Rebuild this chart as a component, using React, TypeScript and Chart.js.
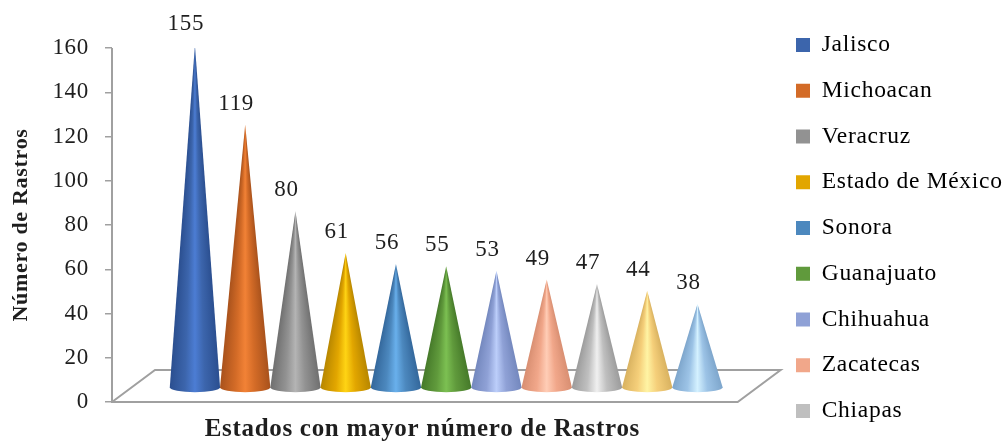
import React, { useEffect, useRef } from "react";
import { Chart, BarController, BarElement, registerables } from "chart.js";

// Slaughterhouse counts per state, highest first.
const rastros = [155, 119, 80, 61, 56, 55, 53, 49, 47, 44, 38];
const legendStates = [
  "Jalisco", "Michoacan", "Veracruz", "Estado de México", "Sonora",
  "Guanajuato", "Chihuahua", "Zacatecas", "Chiapas",
];
const yTitle = "Número de Rastros";
const xTitle = "Estados con mayor número de Rastros";

const baseColors = ["#3C65AC", "#D36B27", "#929292", "#E2A600", "#4C88BE", "#609A3C", "#8FA1D6", "#F1A78A", "#BFBFBF", "#F5CF7A", "#9CC3E6"];
const edgeColors = ["#2B4F90", "#A9521C", "#707070", "#B88700", "#34689C", "#467A2A", "#7488BE", "#D98F72", "#9C9C9C", "#D9B260", "#7EA6CC"];
const glowColors = ["#4C7DD4", "#F28236", "#B4B4B4", "#FFD414", "#69B0EC", "#7CC052", "#BCCEFA", "#FFCDB6", "#F0F0F0", "#FFF4A4", "#D4F1FF"];

const FONT = "'Liberation Serif', serif";
const AXIS_GREY = "#A0A0A0";
const INK = "#1E1E1E";

// Floor and projection offsets of the pseudo-3D plot, in pixels.
const DEPTH_Y = 32;
const DEPTH_X = 43;
const FRONT_OVERHANG = 5;
const CONE_LIFT = 14;

class ConeElement extends BarElement {
  static id = "cone";

  draw(ctx: CanvasRenderingContext2D) {
    const { x, y, base, width } = (this as any).getProps(["x", "y", "base", "width"]);
    const i = baseColors.indexOf((this as any).options.backgroundColor);
    const rx = width / 2;
    const ry = 5;
    const tip = y - CONE_LIFT;
    const floor = base - CONE_LIFT;

    ctx.save();
    ctx.beginPath();
    ctx.moveTo(x, tip);
    ctx.lineTo(x + rx, floor);
    ctx.ellipse(x, floor, rx, ry, 0, 0, Math.PI);
    ctx.closePath();
    ctx.clip();

    // Each row gets its own gradient so the shading narrows towards the apex.
    for (let row = Math.floor(tip); row < floor + ry + 1; row++) {
      const half = Math.max(1, row < floor ? (rx * (row - tip)) / (floor - tip) : rx);
      const g = ctx.createLinearGradient(x - half, 0, x + half, 0);
      g.addColorStop(0, edgeColors[i]);
      g.addColorStop(0.3, baseColors[i]);
      g.addColorStop(0.5, glowColors[i]);
      g.addColorStop(0.7, baseColors[i]);
      g.addColorStop(1, edgeColors[i]);
      ctx.fillStyle = g;
      ctx.fillRect(x - half - 1, row, half * 2 + 2, 1);
    }
    ctx.restore();
  }
}

class ConeController extends BarController {
  static id = "cone";
  static defaults = { ...BarController.defaults, dataElementType: "cone" };
  static overrides = BarController.overrides;
}

Chart.register(...registerables, ConeElement, ConeController);

const spacing = {
  id: "spacing",
  beforeUpdate(chart: any) { chart.ctx.letterSpacing = "0.7px"; },
  beforeDraw(chart: any) { chart.ctx.letterSpacing = "0.7px"; },
};

// Puts the legend column beside the floor, clear of the plot's own layout box.
const legendPlacement = {
  id: "legendPlacement",
  afterLayout(chart: any) {
    const legend = chart.legend;
    const pad = legend.options.labels.padding;
    legend.left = 796 - pad;
    legend.top = 11;
    legend.bottom = 520;
  },
};

// Draws the floor parallelogram and the y axis line behind the cones.
const floorPlate = {
  id: "floorPlate",
  beforeDatasetsDraw(chart: any) {
    const { ctx, chartArea, scales } = chart;
    const y0 = scales.y.getPixelForValue(0);
    const left = chartArea.left;
    const right = chartArea.right + FRONT_OVERHANG;
    ctx.save();
    ctx.strokeStyle = AXIS_GREY;
    ctx.lineWidth = 2;
    ctx.beginPath();
    ctx.moveTo(left, chartArea.top);
    ctx.lineTo(left, y0);
    ctx.lineTo(right, y0);
    ctx.lineTo(right + DEPTH_X, y0 - DEPTH_Y);
    ctx.lineTo(left + DEPTH_X, y0 - DEPTH_Y);
    ctx.lineTo(left, y0);
    ctx.stroke();
    ctx.restore();
  },
};

// Writes each value above its cone, offset along the projection.
const valueLabels = {
  id: "valueLabels",
  afterDatasetsDraw(chart: any) {
    const { ctx } = chart;
    ctx.save();
    ctx.font = `23px ${FONT}`;
    ctx.fillStyle = INK;
    ctx.textAlign = "center";
    ctx.textBaseline = "middle";
    chart.getDatasetMeta(0).data.forEach((el: any, i: number) => {
      ctx.fillText(String(rastros[i]), el.x - 9, el.y - 35);
    });
    ctx.restore();
  },
};

export default function App() {
  const ref = useRef<HTMLCanvasElement>(null);

  useEffect(() => {
    const chart = new Chart(ref.current!, {
      type: "cone" as any,
      data: {
        datasets: [{
          label: yTitle,
          data: rastros.map((v, i) => ({ x: i, y: v })),
          backgroundColor: baseColors,
          barPercentage: 1,
          categoryPercentage: 1,
        }],
      },
      plugins: [spacing, legendPlacement, floorPlate, valueLabels],
      options: {
        responsive: false,
        animation: false,
        layout: { padding: { top: 0, bottom: 0, left: 8, right: 0 } },
        scales: {
          x: {
            type: "linear",
            offset: false,
            min: -1.65,
            max: 10.7,
            grid: { display: false, offset: false },
            border: { display: false },
            ticks: { display: false },
            afterFit(s: any) { s.height = 39; },
            title: { display: true, text: xTitle, font: { family: FONT, size: 25, weight: "bold" }, color: INK, padding: { top: 0, bottom: -4 } },
          },
          y: {
            min: 0,
            max: 160,
            ticks: { stepSize: 20, font: { family: FONT, size: 23 }, color: INK, padding: 16 },
            grid: { drawOnChartArea: false, tickLength: 7, color: AXIS_GREY, lineWidth: 1.5 },
            border: { display: false },
            title: { display: true, text: yTitle, font: { family: FONT, size: 22, weight: "bold" }, color: INK, padding: { top: 0, bottom: 2 } },
          },
          headroom: {
            type: "linear",
            position: "top",
            grid: { display: false },
            border: { display: false },
            ticks: { display: false },
            afterFit(s: any) { s.height = 48; },
          },
          gutter: {
            type: "linear",
            position: "right",
            grid: { display: false },
            border: { display: false },
            ticks: { display: false },
            afterFit(s: any) { s.width = 107; },
          },
        },
        plugins: {
          tooltip: { enabled: false },
          legend: {
            position: "right",
            align: "start",
            labels: {
              font: { family: FONT, size: 23.5 },
              color: INK,
              boxWidth: 14,
              boxHeight: 14,
              padding: 22.25,
              generateLabels: () =>
                legendStates.map((text, i) => ({
                  text,
                  fillStyle: baseColors[i],
                  strokeStyle: baseColors[i],
                  lineWidth: 0,
                  index: i,
                  hidden: false,
                })),
            },
          },
        },
      } as any,
    });
    return () => chart.destroy();
  }, []);

  return (
    <canvas
      ref={ref}
      width={1006}
      height={441}
      style={{ position: "fixed", left: 0, top: 0, width: 1006, height: 441 }}
    />
  );
}
